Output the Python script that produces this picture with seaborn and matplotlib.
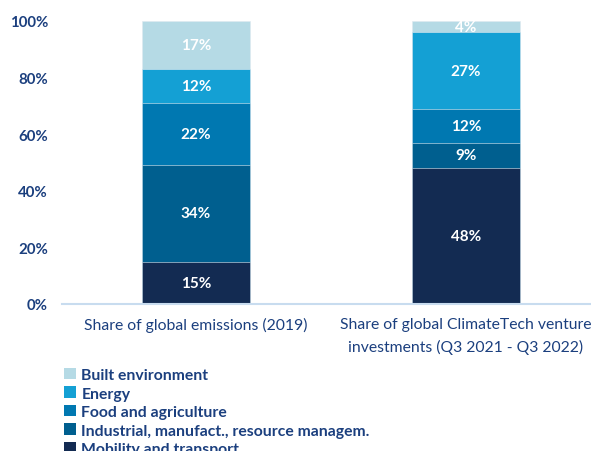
import matplotlib
matplotlib.use("Agg")
import matplotlib.pyplot as plt
import seaborn as sns
import numpy as np
import pandas as pd
from matplotlib.patches import Patch

groups = ["Share of global emissions (2019)",
          "Share of global ClimateTech venture\ninvestments (Q3 2021 - Q3 2022)"]
sectors = ["Mobility and transport",
           "Industrial, manufact., resource managem.",
           "Food and agriculture",
           "Energy",
           "Built environment"]
emissions = [15, 34, 22, 12, 17]
investments = [48, 9, 12, 27, 4]
yticks = [0, 20, 40, 60, 80, 100]
ytick_labels = ["0%", "20%", "40%", "60%", "80%", "100%"]

colors = {
    "Mobility and transport": "#132b52",
    "Industrial, manufact., resource managem.": "#005f8f",
    "Food and agriculture": "#0078b1",
    "Energy": "#14a0d4",
    "Built environment": "#b5dae5",
}
text_blue = "#1b3f7e"

rows = []
for g, vals in zip(groups, [emissions, investments]):
    cum = 0
    for s, v in zip(sectors, vals):
        rows.append({"group": g, "sector": s, "value": v, "bottom": cum, "top": cum + v})
        cum += v
df = pd.DataFrame(rows)

sns.set_theme(style="white")
plt.rcParams["font.family"] = ["Lato", "DejaVu Sans"]

fig = plt.figure(figsize=(5.91, 4.52), dpi=100)
ax = fig.add_axes([62 / 591, 1 - 305 / 452, (600 - 62) / 591, (305 - 22) / 452])

# overlay cumulative bars from the top layer down
for s in reversed(sectors):
    sub = df[df["sector"] == s]
    sns.barplot(data=sub, x="group", y="top", order=groups, color=colors[s],
                width=0.4, saturation=1, edgecolor="#dfe9f0", linewidth=0.4, ax=ax)

for _, r in df.iterrows():
    xi = groups.index(r["group"])
    ax.text(xi, r["bottom"] + r["value"] / 2, f"{r['value']}%", ha="center", va="center",
            color="white", fontsize=11, fontweight="bold")

ax.set_xlim(-0.496, 1.496)
ax.set_ylim(0, 100)
ax.set_yticks(yticks)
ax.set_yticklabels(ytick_labels, fontsize=10.8, fontweight="bold", color=text_blue)
ax.set_xlabel("")
ax.set_ylabel("")
ax.tick_params(axis="y", length=0, pad=10)
ax.tick_params(axis="x", length=0, pad=9.5, labelsize=11.3, labelcolor=text_blue)
for lab in ax.get_xticklabels():
    lab.set_linespacing(1.65)
for sp in ["top", "right", "left"]:
    ax.spines[sp].set_visible(False)
ax.spines["bottom"].set_color("#c8dcef")
ax.spines["bottom"].set_linewidth(1.5)
ax.grid(False)

handles = [Patch(facecolor=colors[s], edgecolor="none") for s in reversed(sectors)]
fig.legend(handles, list(reversed(sectors)), loc="upper left",
           bbox_to_anchor=(64 / 591, 1 - 369 / 452), frameon=False,
           labelspacing=0.27, handlelength=0.75, handleheight=0.75,
           handletextpad=0.35, borderpad=0, borderaxespad=0,
           labelcolor=text_blue, prop={"weight": "bold", "size": 11.3})

fig.savefig("out.png", dpi=100)
